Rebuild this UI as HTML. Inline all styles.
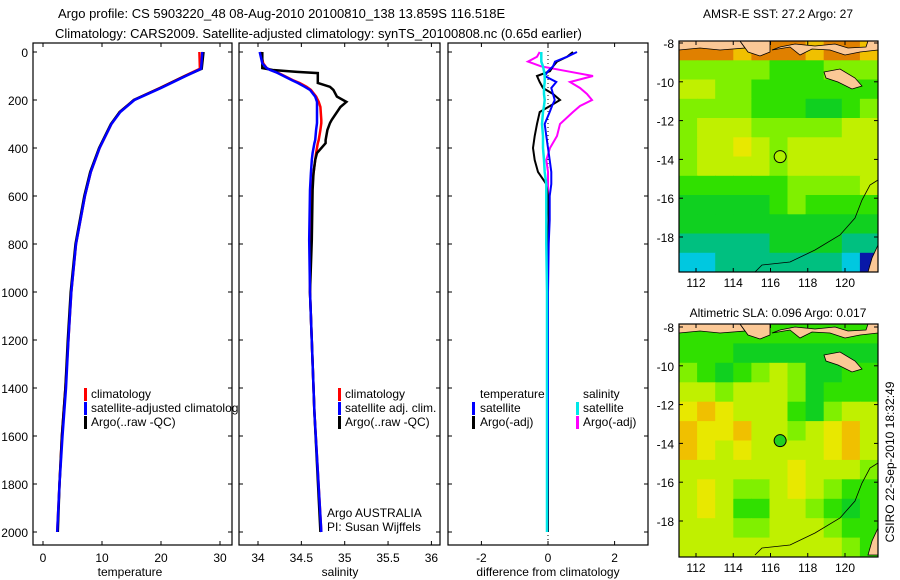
<!DOCTYPE html>
<html><head><meta charset="utf-8">
<style>
html,body{margin:0;padding:0;background:#fff;}
svg{display:block;font-family:"Liberation Sans",sans-serif;}
text{fill:#000;}
</style></head>
<body>
<svg id="fig" width="900" height="580" viewBox="0 0 900 580" xmlns="http://www.w3.org/2000/svg">
<defs>
<clipPath id="c1"><rect x="33" y="43" width="206" height="502"/></clipPath>
<clipPath id="c2"><rect x="239" y="43" width="200" height="502"/></clipPath>
<clipPath id="c3"><rect x="448" y="43" width="200" height="502"/></clipPath>
<clipPath id="cm1"><rect x="679" y="41" width="199" height="231"/></clipPath>
<clipPath id="cm2"><rect x="679" y="324" width="199" height="233"/></clipPath>
</defs>
<text x="58" y="18" font-size="13">Argo profile: CS 5903220_48 08-Aug-2010 20100810_138 13.859S 116.518E</text>
<text x="55" y="38" font-size="13">Climatology: CARS2009. Satellite-adjusted climatology: synTS_20100808.nc (0.65d earlier)</text>
<g id="layer"></g>
</svg>
<script>
// ---------- profile data ----------
var tDepth = [0,70,100,150,200,250,300,400,500,600,800,1000,1200,1400,1600,1800,2000];
var tClim  = [26.5,26.6,24,19.8,15.4,13,11.6,9.6,8.1,7.1,5.6,4.8,4.3,3.8,3.2,2.8,2.4];
var tSat   = [27,26.8,24.2,20,15.5,13.1,11.6,9.6,8.1,7.1,5.6,4.8,4.3,3.9,3.3,2.8,2.4];
var tArgo  = [27.2,26.9,24.1,19.9,15.4,13,11.5,9.5,8,7,5.5,4.7,4.2,3.8,3.2,2.8,2.5];

var sDepth = [0,47,67,75,83,88,117,129,145,158,186,208,229,283,296,325,367,380,421,450,505,575,783,1000,1500,2000];
var sClim  = [34.03,34.06,34.1,34.15,34.2,34.24,34.4,34.48,34.56,34.61,34.67,34.7,34.72,34.73,34.73,34.72,34.7,34.69,34.67,34.66,34.64,34.62,34.6,34.6,34.65,34.73];
var sSat   = [34.02,34.05,34.1,34.14,34.2,34.23,34.39,34.46,34.54,34.6,34.66,34.68,34.68,34.68,34.68,34.67,34.66,34.65,34.63,34.62,34.61,34.6,34.59,34.6,34.65,34.73];
var sArgo  = [34.05,34.05,34.05,34.17,34.45,34.69,34.69,34.69,34.83,34.87,34.91,35.02,34.95,34.85,34.83,34.8,34.78,34.78,34.68,34.66,34.64,34.63,34.62,34.6,34.65,34.72];

var dDepth = [0,20,40,60,80,100,125,150,175,200,225,250,300,350,400,450,500,550,600,700,800,1000,1500,2000];
var dTSat  = [0.87,0.57,0.21,0.15,0.0,-0.1,0.25,0.1,0.15,0.2,0.12,0.05,-0.1,-0.05,0.0,0.05,0.1,0.1,0.05,0.05,0.02,0.0,0.0,-0.02];
var dTArgo = [0.75,0.57,0.27,0.15,0.06,-0.33,-0.25,-0.15,0.15,0.36,0.06,-0.25,-0.33,-0.4,-0.45,-0.4,-0.3,-0.05,0.0,0.02,0.0,0.0,0.0,0.0];
var dSSat  = [-0.2,-0.2,-0.2,-0.15,-0.12,-0.1,-0.1,-0.12,-0.12,-0.1,-0.12,-0.15,-0.18,-0.15,-0.15,-0.12,-0.1,-0.05,-0.05,-0.05,-0.05,-0.03,-0.03,-0.03];
var dSArgo = [-0.25,-0.33,-0.6,-0.2,0.57,1.35,0.66,0.96,1.17,1.32,0.96,0.75,0.36,0.27,0.06,-0.05,0.0,0.0,0.0,0.0,0.0,0.0,0.0,0.0];

var depthTicks = [0,200,400,600,800,1000,1200,1400,1600,1800,2000];
var tTicks = [0,10,20,30];
var sTicks = [34,34.5,35,35.5,36];
var sTickLabels = ["34","34.5","35","35.5","36"];
var dTicks = [-2,0,2];
var lonTicks = [112,114,116,118,120];
var latTicks = [-8,-10,-12,-14,-16,-18];

// ---------- map data (colour-level grids, rows north->south) ----------
var sstGrid = [
[9,9,9,8,9,9,9,8,9,9,8],
[5,5,5,5,5,4,4,4,5,5,5],
[6,6,5,5,4,4,4,4,4,4,4],
[5,5,5,5,4,4,4,3,3,4,5],
[5,6,6,6,5,5,5,5,5,6,6],
[5,6,6,7,6,5,6,6,6,6,6],
[5,6,6,6,6,5,6,6,6,6,6],
[4,4,4,4,4,4,5,5,5,5,6],
[3,3,3,3,3,4,5,4,4,4,4],
[3,3,3,3,3,3,3,3,3,3,3],
[2,2,2,2,2,3,3,3,3,2,2],
[1,1,2,2,2,2,2,2,2,1,0]];
var slaGrid = [
[4,4,4,4,4,4,4,4,4,4,4],
[4,4,4,3,3,3,3,3,3,3,3],
[5,4,3,4,5,6,5,3,3,4,4],
[6,6,5,6,6,6,5,3,4,4,4],
[7,8,7,6,6,6,4,3,5,6,6],
[8,7,7,8,6,6,5,6,7,8,6],
[8,7,6,7,6,6,6,6,7,8,6],
[6,6,6,6,6,6,7,6,6,6,5],
[6,7,6,5,5,6,7,6,5,4,4],
[6,7,6,4,4,6,6,5,4,3,4],
[6,6,6,5,5,6,6,6,5,4,4],
[6,6,6,6,6,6,6,6,6,5,4]];
var argoLon = 116.518, argoLat = -13.859;

var palette = ["#0818a8","#00c8e0","#00c080","#10d020","#30e000","#80f000","#c0f000","#e8e800","#f0c000","#e08000","#c04000"];

// ---------- helpers ----------
var NS="http://www.w3.org/2000/svg";
var layer=document.getElementById('layer');
function mk(tag,attrs,parent){var e=document.createElementNS(NS,tag);for(var k in attrs)e.setAttribute(k,attrs[k]);(parent||layer).appendChild(e);return e;}
function depthY(d){return 52+0.24*d;}
function tempX(v){return 43+5.9*v;}
function salX(v){return 258+86.7*(v-34);}
function diffX(v){return 548+33.3*v;}
function lonX1(l){return 696+(l-112)*18.625;}
function latY1(l){return 43+(-8-l)*19.4;}
function latY2(l){return 327+(-8-l)*19.4;}

function series(depths,vals,xf,color,clip,name,w){
  var pts=[];for(var i=0;i<depths.length;i++)pts.push(xf(vals[i]).toFixed(1)+','+depthY(depths[i]).toFixed(1));
  var p=mk('polyline',{points:pts.join(' '),fill:'none',stroke:color,'stroke-width':w||2.5,'clip-path':'url(#'+clip+')'});
  
  
}
function box(x,y,w,h,name){
  var r=mk('rect',{x:x,y:y,width:w,height:h,fill:'none',stroke:'#000','stroke-width':1.2});
  
  
}
function txt(x,y,s,size,anchor,name){
  var t=mk('text',{x:x,y:y,'font-size':size,'text-anchor':anchor||'start'});t.textContent=s;
  
  
  return t;
}
function line(x1,y1,x2,y2,c,w){return mk('line',{x1:x1,y1:y1,x2:x2,y2:y2,stroke:c||'#000','stroke-width':w||1});}
function legendBar(x,y,c,name){
  var r=mk('rect',{x:x,y:y-10,width:3,height:13,fill:c});
  
  
}

// ---------- profile panels ----------
var panels=[{x0:33,x1:232,name:'temperature-panel'},{x0:239,x1:440,name:'salinity-panel'},{x0:448,x1:648,name:'difference-panel'}];
var pTop=43,pBot=545;
panels.forEach(function(p){
  box(p.x0,pTop,p.x1-p.x0,pBot-pTop,p.name+'-frame');
  depthTicks.forEach(function(d){var y=depthY(d);line(p.x0,y,p.x0+4,y);line(p.x1-4,y,p.x1,y);});
});
depthTicks.forEach(function(d){txt(28,depthY(d)+5,String(d),12,'end','depth-tick-label');});

tTicks.forEach(function(v){var x=tempX(v);line(x,pBot,x,pBot-4);line(x,pTop,x,pTop+4);txt(x,562,String(v),12,'middle','temperature-tick-label');});
sTicks.forEach(function(v,i){var x=salX(v);line(x,pBot,x,pBot-4);line(x,pTop,x,pTop+4);txt(x,562,sTickLabels[i],12,'middle','salinity-tick-label');});
dTicks.forEach(function(v){var x=diffX(v);line(x,pBot,x,pBot-4);line(x,pTop,x,pTop+4);txt(x,562,String(v),12,'middle','difference-tick-label');});
txt(130,576,'temperature',12,'middle','temperature-axis-title');
txt(340,576,'salinity',12,'middle','salinity-axis-title');
txt(548,576,'difference from climatology',12,'middle','difference-axis-title');

series(tDepth,tClim,tempX,'#ff0000','c1','temperature-climatology-line');
series(tDepth,tArgo,tempX,'#000000','c1','temperature-argo-line');
series(tDepth,tSat,tempX,'#0000ff','c1','temperature-satellite-line');

series(sDepth,sClim,salX,'#ff0000','c2','salinity-climatology-line');
series(sDepth,sArgo,salX,'#000000','c2','salinity-argo-line');
series(sDepth,sSat,salX,'#0000ff','c2','salinity-satellite-line');

mk('line',{x1:diffX(0),y1:pTop,x2:diffX(0),y2:pBot,stroke:'#000','stroke-width':1,'stroke-dasharray':'1,3'});
series(dDepth,dSArgo,diffX,'#ff00ff','c3','salinity-argo-diff-line',2);
series(dDepth,dTArgo,diffX,'#000000','c3','temperature-argo-diff-line',2);
series(dDepth,dTSat,diffX,'#0000ff','c3','temperature-satellite-diff-line',2);
series(dDepth,dSSat,diffX,'#00e8e8','c3','salinity-satellite-diff-line',2.5);

// legends
var g1=mk('g',{'clip-path':'url(#c1)'});
legendBar(84,398,'#ff0000','legend-climatology-marker');
legendBar(84,412,'#0000ff','legend-satellite-marker');
legendBar(84,426,'#000000','legend-argo-marker');
[['climatology',398],['satellite-adjusted climatology',412],['Argo(..raw -QC)',426]].forEach(function(a){var t=txt(91,a[1],a[0],12,'start','temperature-legend-entry');g1.appendChild(t);});
legendBar(338,398,'#ff0000','legend-climatology-marker');
legendBar(338,412,'#0000ff','legend-satellite-marker');
legendBar(338,426,'#000000','legend-argo-marker');
txt(345,398,'climatology',12,'start','salinity-legend-entry');
txt(345,412,'satellite adj. clim.',12,'start','salinity-legend-entry');
txt(345,426,'Argo(..raw -QC)',12,'start','salinity-legend-entry');
txt(327,517,'Argo AUSTRALIA',12,'start','credit-agency');
txt(327,531,'PI: Susan Wijffels',12,'start','credit-pi');
txt(480,398,'temperature',12,'start','diff-legend-temperature-header');
legendBar(472,412,'#0000ff','diff-legend-temp-satellite-marker');
txt(480,412,'satellite',12,'start','diff-legend-temp-satellite');
legendBar(472,426,'#000000','diff-legend-temp-argo-marker');
txt(480,426,'Argo(-adj)',12,'start','diff-legend-temp-argo');
txt(583,398,'salinity',12,'start','diff-legend-salinity-header');
legendBar(576,412,'#00e8e8','diff-legend-sal-satellite-marker');
txt(583,412,'satellite',12,'start','diff-legend-sal-satellite');
legendBar(576,426,'#ff00ff','diff-legend-sal-argo-marker');
txt(583,426,'Argo(-adj)',12,'start','diff-legend-sal-argo');

// ---------- maps ----------
function drawMap(grid,y0,y1,latY,clip,name,circleFill){
  var g=mk('g',{'clip-path':'url(#'+clip+')'});
  
  
  var rows=grid.length,cols=grid[0].length,cw=199/cols,ch=(y1-y0)/rows;
  for(var r=0;r<rows;r++)for(var c=0;c<cols;c++){
    mk('rect',{x:(679+c*cw).toFixed(1),y:(y0+r*ch).toFixed(1),width:(cw+0.6).toFixed(1),height:(ch+0.6).toFixed(1),fill:palette[grid[r][c]]},g);
  }
  var land='#fbc896';
  var off=y0-41;
  mk('path',{d:'M679,'+(41+off)+' L740,'+(41+off)+' L745,'+(48+off)+' L720,'+(50+off)+' L700,'+(48+off)+' L679,'+(50+off)+' Z',fill:land,stroke:'#000','stroke-width':0.8},g);
  mk('path',{d:'M740,'+(41+off)+' L770,'+(41+off)+' L770,'+(52+off)+' L760,'+(56+off)+' L748,'+(52+off)+' Z',fill:land,stroke:'#000','stroke-width':0.8},g);
  mk('path',{d:'M772,'+(50+off)+' L790,'+(47+off)+' L800,'+(55+off)+' L812,'+(49+off)+' L830,'+(50+off)+' L845,'+(55+off)+' L860,'+(52+off)+' L878,'+(50+off)+' L878,'+(41+off)+' L868,'+(41+off)+' L866,'+(47+off)+' L848,'+(48+off)+' L835,'+(44+off)+' L815,'+(46+off)+' L795,'+(44+off)+' L780,'+(47+off)+' Z',fill:land,stroke:'#000','stroke-width':0.8},g);
  mk('path',{d:'M824,'+(72+off)+' L840,'+(69+off)+' L855,'+(78+off)+' L862,'+(86+off)+' L852,'+(89+off)+' L838,'+(82+off)+' L826,'+(78+off)+' Z',fill:land,stroke:'#000','stroke-width':0.8},g);
  mk('path',{d:'M878,'+(245+off)+' L872,'+(258+off)+' L868,'+(272+off)+' L878,'+(272+off)+' Z',fill:land,stroke:'#000','stroke-width':0.8},g);
  mk('path',{d:'M755,'+(272+off)+' L762,'+(265+off)+' L790,'+(262+off)+' L815,'+(250+off)+' L840,'+(235+off)+' L855,'+(218+off)+' L862,'+(200+off)+' L870,'+(185+off)+' L878,'+(180+off),fill:'none',stroke:'#000','stroke-width':0.8},g);
  var cx=lonX1(argoLon),cy=latY(argoLat);
  var c=mk('circle',{cx:cx,cy:cy,r:6,fill:circleFill,stroke:'#000','stroke-width':1});
  
  
  box(679,y0,199,y1-y0,name+'-frame');
  lonTicks.forEach(function(l){var x=lonX1(l);line(x,y1,x,y1-4);line(x,y0,x,y0+4);txt(x,y1+15,String(l),12,'middle',name+'-lon-tick');});
  latTicks.forEach(function(l){var y=latY(l);line(679,y,683,y);line(874,y,878,y);txt(674,y+5,String(l),12,'end',name+'-lat-tick');});
}
drawMap(sstGrid,41,272,latY1,'cm1','sst-map','#b0f000');
drawMap(slaGrid,324,557,latY2,'cm2','sla-map','#20d020');
txt(778,18,'AMSR-E SST: 27.2 Argo: 27',12,'middle','sst-map-title');
txt(778,317,'Altimetric SLA: 0.096 Argo: 0.017',12,'middle','sla-map-title');
var rt=txt(0,0,'CSIRO 22-Sep-2010 18:32:49',12,'middle','timestamp-label');
rt.setAttribute('transform','translate(894,462) rotate(-90)');
</script>
</body></html>
